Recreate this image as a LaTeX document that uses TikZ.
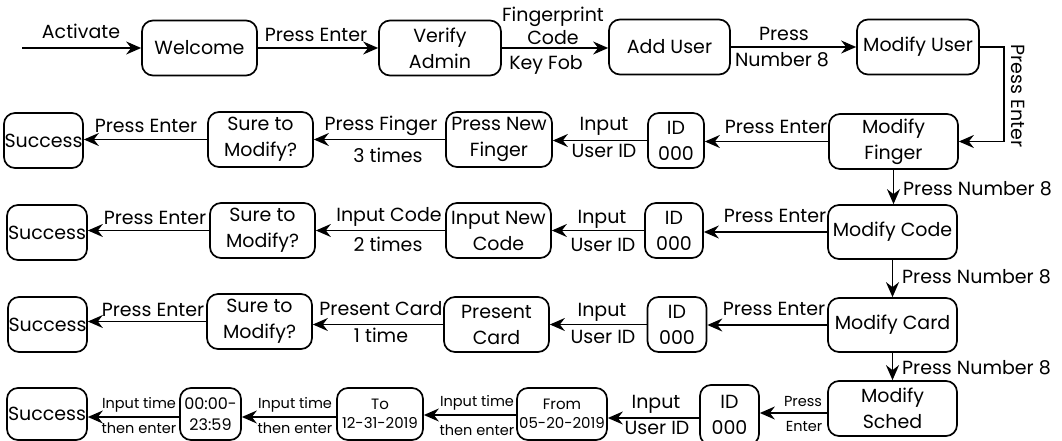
\documentclass[tikz,border=0pt]{standalone}
\usepackage{fontspec}
\setmainfont{Poppins}
\usetikzlibrary{arrows.meta}
\begin{document}
\begin{tikzpicture}[x=1pt,y=-1pt,
  box/.style={draw, line width=1.7pt, rounded corners=11pt, inner sep=0pt, align=center,
    font=\fontsize{19}{26}\selectfont},
  lbl/.style={inner sep=0pt, font=\fontsize{19}{26}\selectfont},
  sml/.style={inner sep=0pt, font=\fontsize{14.5}{18}\selectfont},
  arr/.style={line width=1.7pt, -{Stealth[length=15pt,width=13pt,inset=5pt]}}]
\useasboundingbox (0,0) rectangle (1062,441);
% ---------- row 1
\node[box, minimum width=115pt, minimum height=55pt] (welcome) at (199.5,48) {Welcome};
\node[box, minimum width=122pt, minimum height=55pt] (verify) at (440,48) {Verify\\Admin};
\node[box, minimum width=121pt, minimum height=55pt] (adduser) at (669.5,47) {Add User};
\node[box, minimum width=122pt, minimum height=55pt] (moduser) at (918,47) {Modify User};
% ---------- row 2
\node[box, minimum width=129pt, minimum height=55pt] (modfinger) at (893.5,141.5) {Modify\\Finger};
\node[box, minimum width=56pt, minimum height=55pt] (id1) at (676,140.5) {ID\\000};
\node[box, minimum width=106pt, minimum height=55pt] (pnf) at (499,139.5) {Press New\\Finger};
\node[box, minimum width=105pt, minimum height=55pt] (sure1) at (260.5,139.5) {Sure to\\Modify?};
\node[box, minimum width=79pt, minimum height=55pt] (succ1) at (43.5,140.5) {Success};
% ---------- row 3
\node[box, minimum width=129pt, minimum height=54pt] (modcode) at (892.5,232) {Modify Code};
\node[box, minimum width=58pt, minimum height=55pt] (id2) at (674,230.5) {ID\\000};
\node[box, minimum width=105pt, minimum height=55pt] (inc) at (498.5,230.5) {Input New\\Code};
\node[box, minimum width=105pt, minimum height=55pt] (sure2) at (262.5,230.5) {Sure to\\Modify?};
\node[box, minimum width=80pt, minimum height=55pt] (succ2) at (47,232.5) {Success};
% ---------- row 4
\node[box, minimum width=129pt, minimum height=54pt] (modcard) at (892.5,325) {Modify Card};
\node[box, minimum width=59pt, minimum height=55pt] (id3) at (677,324.5) {ID\\000};
\node[box, minimum width=105pt, minimum height=55pt] (pc) at (496.5,324.5) {Present\\Card};
\node[box, minimum width=105pt, minimum height=55pt] (sure3) at (259.5,321.5) {Sure to\\Modify?};
\node[box, minimum width=79pt, minimum height=55pt] (succ3) at (47.5,324.5) {Success};
% ---------- row 5
\node[box, minimum width=129pt, minimum height=55pt] (modsched) at (892.5,408.5) {Modify\\Sched};
\node[box, minimum width=59pt, minimum height=60pt] (id4) at (729.5,415) {ID\\000};
\node[box, minimum width=90pt, minimum height=52pt, font=\fontsize{15}{19}\selectfont] (from) at (562,414) {From\\05-20-2019};
\node[box, minimum width=86pt, minimum height=52pt, font=\fontsize{15}{19}\selectfont] (to) at (380,414) {To\\12-31-2019};
\node[box, minimum width=61pt, minimum height=52pt, font=\fontsize{16}{21}\selectfont] (hours) at (210.5,414) {00:00-\\23:59};
\node[box, minimum width=80pt, minimum height=52pt] (succ4) at (47,414) {Success};
% ---------- connectors
\coordinate (start) at (22,48);
\draw[arr] (start) -- (welcome.west);
\draw[arr] (welcome.east) -- (welcome.east -| verify.west);
\draw[arr] (verify.east) -- (verify.east -| adduser.west);
\draw[arr] (adduser.east) -- (adduser.east -| moduser.west);
\draw[arr] (moduser.east) -- ++(24,0) |- (modfinger.east);
\draw[arr] (modfinger.west) -- (modfinger.west -| id1.east);
\draw[arr] (id1.west) -- (id1.west -| pnf.east);
\draw[arr] (pnf.west) -- (pnf.west -| sure1.east);
\draw[arr] (sure1.west) -- (sure1.west -| succ1.east);
\draw[arr] (modfinger.south) -- (modfinger.south |- modcode.north);
\draw[arr] (modcode.west) -- (modcode.west -| id2.east);
\draw[arr] (id2.west) -- (id2.west -| inc.east);
\draw[arr] (inc.west) -- (inc.west -| sure2.east);
\draw[arr] (sure2.west) -- (sure2.west -| succ2.east);
\draw[arr] (modcode.south) -- (modcode.south |- modcard.north);
\draw[arr] (modcard.west) -- (modcard.west -| id3.east);
\draw[arr] (id3.west) -- (id3.west -| pc.east);
\draw[arr] (pc.west) -- (pc.west -| sure3.east);
\draw[arr] (sure3.west) -- (sure3.west -| succ3.east);
\draw[arr] (modcard.south) -- (modcard.south |- modsched.north);
\draw[arr] ([yshift=-4.5pt]modsched.west) -- ([yshift=-4.5pt]modsched.west -| id4.east);
\draw[arr] ([yshift=-3pt]id4.west) -- ([yshift=-3pt]id4.west -| from.east);
\draw[arr] ([yshift=-1pt]from.west) -- ([yshift=-1pt]from.west -| to.east);
\draw[arr] ([yshift=-3pt]to.west) -- ([yshift=-3pt]to.west -| hours.east);
\draw[arr] ([yshift=-3pt]hours.west) -- ([yshift=-3pt]hours.west -| succ4.east);
% ---------- labels
\node[lbl] (l1) at (81,31) {Activate};
\node[lbl] (l2) at (316,35) {Press Enter};
\node[lbl] (l3) at (553,17) {Fingerprint};
\node[lbl] (l4) at (553,37.5) {Code};
\node[lbl] (l5) at (546,65) {Key Fob};
\node[lbl] (l6) at (784,34) {Press};
\node[lbl] (l7) at (782,60) {Number 8};
\node[lbl, rotate=-90] (l8) at (1018,96) {Press Enter};
\node[lbl] (l9) at (776,127) {Press Enter};
\node[lbl] (l10) at (604,126) {Input};
\node[lbl] (l11) at (604,151) {User ID};
\node[lbl] (l12) at (381,126) {Press Finger};
\node[lbl] (l13) at (388,155) {3 times};
\node[lbl] (l14) at (146,126) {Press Enter};
\node[lbl, anchor=west] (l15) at (903,189) {Press Number 8};
\node[lbl] (l16) at (775,216) {Press Enter};
\node[lbl] (l17) at (602,219) {Input};
\node[lbl] (l18) at (603,245) {User ID};
\node[lbl] (l19) at (389,217) {Input Code};
\node[lbl] (l20) at (388,244) {2 times};
\node[lbl] (l21) at (155,218) {Press Enter};
\node[lbl, anchor=west] (l22) at (902,277) {Press Number 8};
\node[lbl] (l23) at (774,309) {Press Enter};
\node[lbl] (l24) at (602,312) {Input};
\node[lbl] (l25) at (603,337) {User ID};
\node[lbl] (l26) at (381,309) {Present Card};
\node[lbl] (l27) at (381,335) {1 time};
\node[lbl] (l28) at (153,310) {Press Enter};
\node[lbl, anchor=west] (l29) at (902,368) {Press Number 8};
\node[sml] (l30) at (803,402) {Press};
\node[sml] (l31) at (804,426) {Enter};
\node[lbl] (l32) at (656,404) {Input};
\node[lbl] (l33) at (657,428) {User ID};
\node[sml] (l34) at (477,403) {Input time};
\node[sml] (l35) at (477,430) {then enter};
\node[sml] (l36) at (295,405) {Input time};
\node[sml] (l37) at (295,428) {then enter};
\node[sml] (l38) at (139,405) {Input time};
\node[sml] (l39) at (139,428) {then enter};
\end{tikzpicture}
\end{document}
